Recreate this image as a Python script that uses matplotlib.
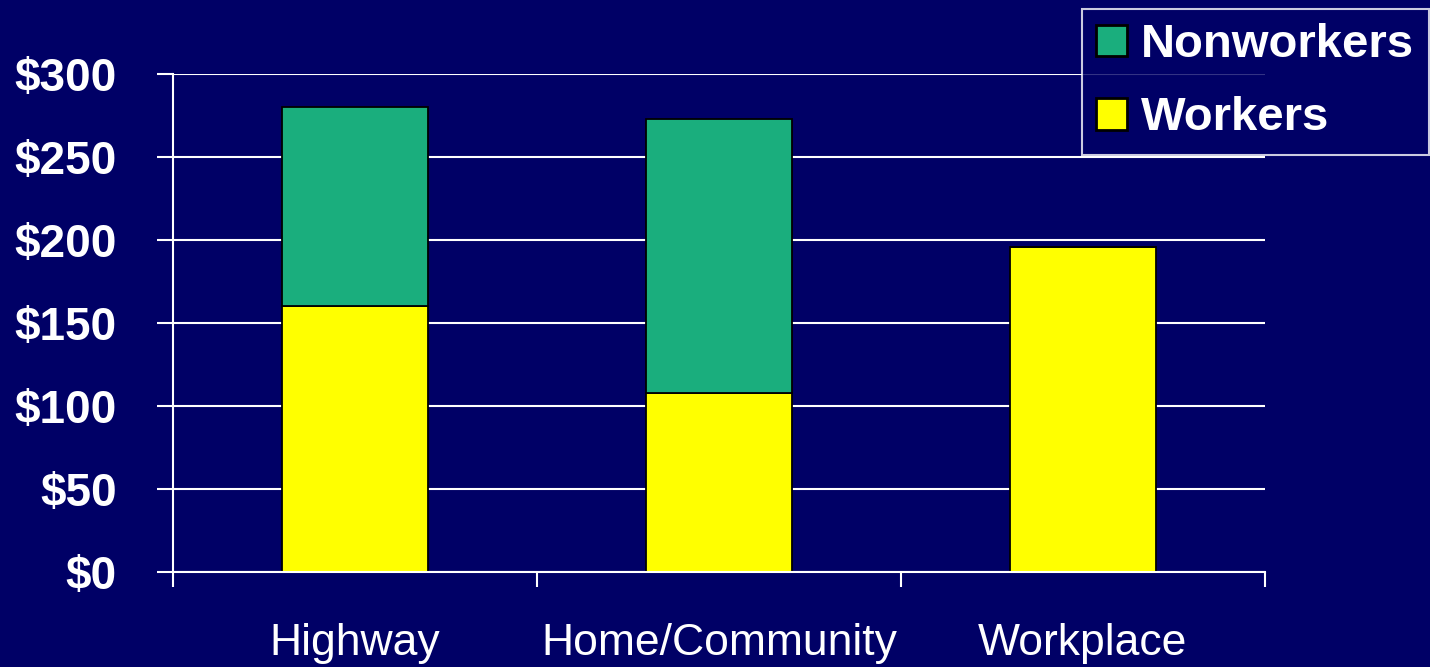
import numpy as np
import matplotlib.pyplot as plt

categories = ["Highway", "Home/Community", "Workplace"]
workers = [160, 108, 196]
nonworkers = [120, 165, 0]
yticks = [0, 50, 100, 150, 200, 250, 300]

navy = "#000066"
green = "#1aae7d"
yellow = "#ffff00"

fig = plt.figure(figsize=(14.3, 6.67), dpi=100, facecolor=navy)
ax = fig.add_axes([0.121, 0.1424, 0.7635, 0.7466], facecolor=navy)

x = np.arange(len(categories))
ax.bar(x, workers, width=0.4, color=yellow, edgecolor="black", linewidth=1.3, zorder=3, label="Workers")
ax.bar(x, nonworkers, width=0.4, bottom=workers, color=green, edgecolor="black", linewidth=1.3, zorder=3,
       label="Nonworkers")

ax.set_xlim(-0.5, 2.5)
ax.set_ylim(0, 300)
ax.set_yticks(yticks)
ax.set_yticklabels([f"${v}" for v in yticks], fontsize=33, fontweight="bold", color="white",
                   family=["Liberation Sans", "DejaVu Sans"])
ax.yaxis.grid(True, color="white", linewidth=1.5, zorder=1)
ax.tick_params(axis="y", direction="out", length=11.5, width=1.5, color="white", pad=29)

# category labels in the middle, tick marks on the boundaries
ax.set_xticks(x)
ax.set_xticklabels(categories, fontsize=32, color="white",
                   family=["Liberation Sans Narrow", "Liberation Sans", "DejaVu Sans"])
ax.tick_params(axis="x", which="major", length=0, pad=37)
ax.set_xticks([-0.5, 0.5, 1.5, 2.5], minor=True)
ax.tick_params(axis="x", which="minor", direction="out", length=10.5, width=1.5, color="white")

for side in ["top", "right"]:
    ax.spines[side].set_visible(False)
for side in ["left", "bottom"]:
    ax.spines[side].set_color("white")
    ax.spines[side].set_linewidth(1.5)
    ax.spines[side].set_zorder(4)

handles, labels = ax.get_legend_handles_labels()
leg = fig.legend(handles[::-1], labels[::-1], loc="upper right", bbox_to_anchor=(0.999, 0.9865),
                 frameon=True, fancybox=False, facecolor=navy, edgecolor="white",
                 prop={"family": ["Liberation Sans", "DejaVu Sans"], "weight": "bold", "size": 34},
                 handlelength=0.65, handleheight=0.65, handletextpad=0.3, labelspacing=0.62,
                 borderpad=0.3, borderaxespad=0)
leg.get_frame().set_linewidth(1.5)
for t in leg.get_texts():
    t.set_color("white")
for p in leg.get_patches():
    p.set_edgecolor("black")
    p.set_linewidth(2)

fig.savefig("out.png", dpi=100, facecolor=navy)
